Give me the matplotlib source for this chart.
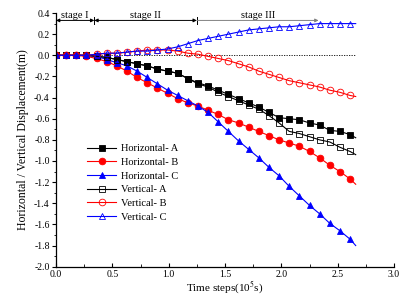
import numpy as np
import matplotlib
matplotlib.use("Agg")
import matplotlib.pyplot as plt

# Time steps (10^5 s) where markers sit; last value is the end of the line
time = [0.00, 0.09, 0.18, 0.27, 0.36, 0.45, 0.54, 0.63, 0.72, 0.81,
        0.90, 0.99, 1.08, 1.17, 1.26, 1.35, 1.44, 1.53, 1.62, 1.71,
        1.80, 1.89, 1.98, 2.07, 2.16, 2.25, 2.34, 2.43, 2.52, 2.61, 2.66]

horiz_a = [0, 0, 0, 0, -0.01, -0.02, -0.04, -0.06, -0.08, -0.10,
           -0.13, -0.15, -0.17, -0.22, -0.26, -0.29, -0.33, -0.37, -0.41, -0.45,
           -0.49, -0.54, -0.59, -0.60, -0.61, -0.64, -0.66, -0.71, -0.72, -0.75, -0.78]
horiz_b = [0, 0, 0, -0.01, -0.03, -0.06, -0.10, -0.15, -0.21, -0.26,
           -0.31, -0.36, -0.41, -0.45, -0.48, -0.52, -0.56, -0.61, -0.64, -0.68,
           -0.72, -0.76, -0.80, -0.83, -0.86, -0.91, -0.97, -1.04, -1.10, -1.17, -1.22]
horiz_c = [0, 0, 0, 0, -0.01, -0.04, -0.07, -0.10, -0.15, -0.21,
           -0.27, -0.33, -0.38, -0.43, -0.48, -0.54, -0.63, -0.72, -0.81, -0.89,
           -0.97, -1.06, -1.14, -1.24, -1.33, -1.42, -1.50, -1.59, -1.66, -1.74, -1.80]
vert_a = [0, 0, 0, 0, -0.01, -0.02, -0.04, -0.06, -0.08, -0.10,
          -0.13, -0.15, -0.17, -0.22, -0.27, -0.30, -0.35, -0.39, -0.43, -0.47,
          -0.51, -0.57, -0.64, -0.72, -0.74, -0.77, -0.80, -0.82, -0.87, -0.91, -0.94]
vert_b = [0, 0, 0, 0, 0.01, 0.02, 0.02, 0.03, 0.04, 0.05,
          0.05, 0.05, 0.04, 0.02, 0.01, -0.01, -0.03, -0.05, -0.08, -0.11,
          -0.15, -0.18, -0.21, -0.24, -0.26, -0.28, -0.30, -0.33, -0.35, -0.38, -0.39]
vert_c = [0, 0, 0, 0, 0.01, 0.02, 0.02, 0.03, 0.04, 0.04,
          0.05, 0.06, 0.08, 0.11, 0.14, 0.16, 0.18, 0.20, 0.22, 0.24,
          0.25, 0.26, 0.27, 0.27, 0.28, 0.29, 0.30, 0.30, 0.30, 0.30, 0.30]

labels = ["Horizontal- A", "Horizontal- B", "Horizontal- C",
          "Vertical- A", "Vertical- B", "Vertical- C"]

# stage boundaries along the time axis
stage_edges = [0.0, 0.34, 1.25, 2.33]
stage_names = ["stage I", "stage II", "stage III"]

plt.rcParams['font.family'] = ['Liberation Serif', 'DejaVu Serif']
plt.rcParams['mathtext.fontset'] = 'stix'

fig = plt.figure(figsize=(4.10, 2.96), dpi=100)
ax = fig.add_axes([0.1366, 0.099, 0.8244, 0.857])

series = [horiz_a, horiz_b, horiz_c, vert_a, vert_b, vert_c]
colors = ['black', 'red', 'blue', 'black', 'red', 'blue']
markers = ['s', 'o', '^', 's', 'o', '^']
filled = [True, True, True, False, False, False]

n_marks = len(time) - 1
for ys, lab, c, m, f in zip(series, labels, colors, markers, filled):
    ax.plot(time, ys, color=c, lw=0.8, marker=m, markersize=4.8,
            markevery=list(range(n_marks)),
            markerfacecolor=c if f else 'none', markeredgecolor=c,
            markeredgewidth=0.6, label=lab)

# zero reference line
ax.plot([time[0], time[-1]], [0, 0], color='black', lw=0.6, ls=(0, (1.5, 1.5)), zorder=0)

# stage arrows
y_arr = 0.33
for i, name in enumerate(stage_names):
    x0, x1 = stage_edges[i], stage_edges[i + 1]
    if i < 2:
        style, col = '<|-|>', 'black'
    else:
        style, col = '<|-', 'gray'
    ax.annotate('', xy=(x0, y_arr), xytext=(x1, y_arr),
                arrowprops=dict(arrowstyle=style, color=col, lw=0.7,
                                mutation_scale=5, shrinkA=0, shrinkB=0))
    ax.text((x0 + x1) / 2, y_arr + 0.008, name, ha='center', va='bottom', fontsize=7.5)
for xe in stage_edges[1:3]:
    ax.plot([xe, xe], [y_arr - 0.035, y_arr + 0.035], color='black', lw=0.7)

ax.set_xlim(0, 3.0)
ax.set_ylim(-2.0, 0.4)
ax.set_xticks(np.arange(0, 3.01, 0.5))
ax.set_xticks(np.arange(0, 3.01, 0.25), minor=True)
ax.set_yticks(np.arange(-2.0, 0.41, 0.2))
ax.set_yticks(np.arange(-2.0, 0.41, 0.1), minor=True)
ax.set_xticklabels(['%.1f' % v for v in np.arange(0, 3.01, 0.5)])
ax.set_yticklabels(['%.1f' % v if abs(v) > 1e-9 else '0.0' for v in np.arange(-2.0, 0.41, 0.2)])

ax.spines['top'].set_visible(False)
ax.spines['right'].set_visible(False)
ax.spines['left'].set_linewidth(0.9)
ax.spines['bottom'].set_linewidth(0.9)
ax.tick_params(axis='x', which='major', direction='in', length=3, width=0.8, labelsize=7, pad=2.5)
ax.tick_params(axis='x', which='minor', direction='in', length=2, width=0.6)
ax.tick_params(axis='y', which='major', direction='out', length=3, width=0.8, labelsize=7, pad=1.5)
ax.tick_params(axis='y', which='minor', direction='out', length=1.5, width=0.6)

ax.set_xlabel(r'Time steps(10$^5$s)', fontsize=8, labelpad=0)
ax.set_ylabel('Horizontal / Vertical Displacement(m)', fontsize=8.5, labelpad=4)

ax.legend(loc='upper left', bbox_to_anchor=(0.08, 0.50), frameon=False, fontsize=7.5,
          handlelength=2.8, labelspacing=0.42, handletextpad=0.4, borderaxespad=0)

plt.savefig('out.png', dpi=100)
